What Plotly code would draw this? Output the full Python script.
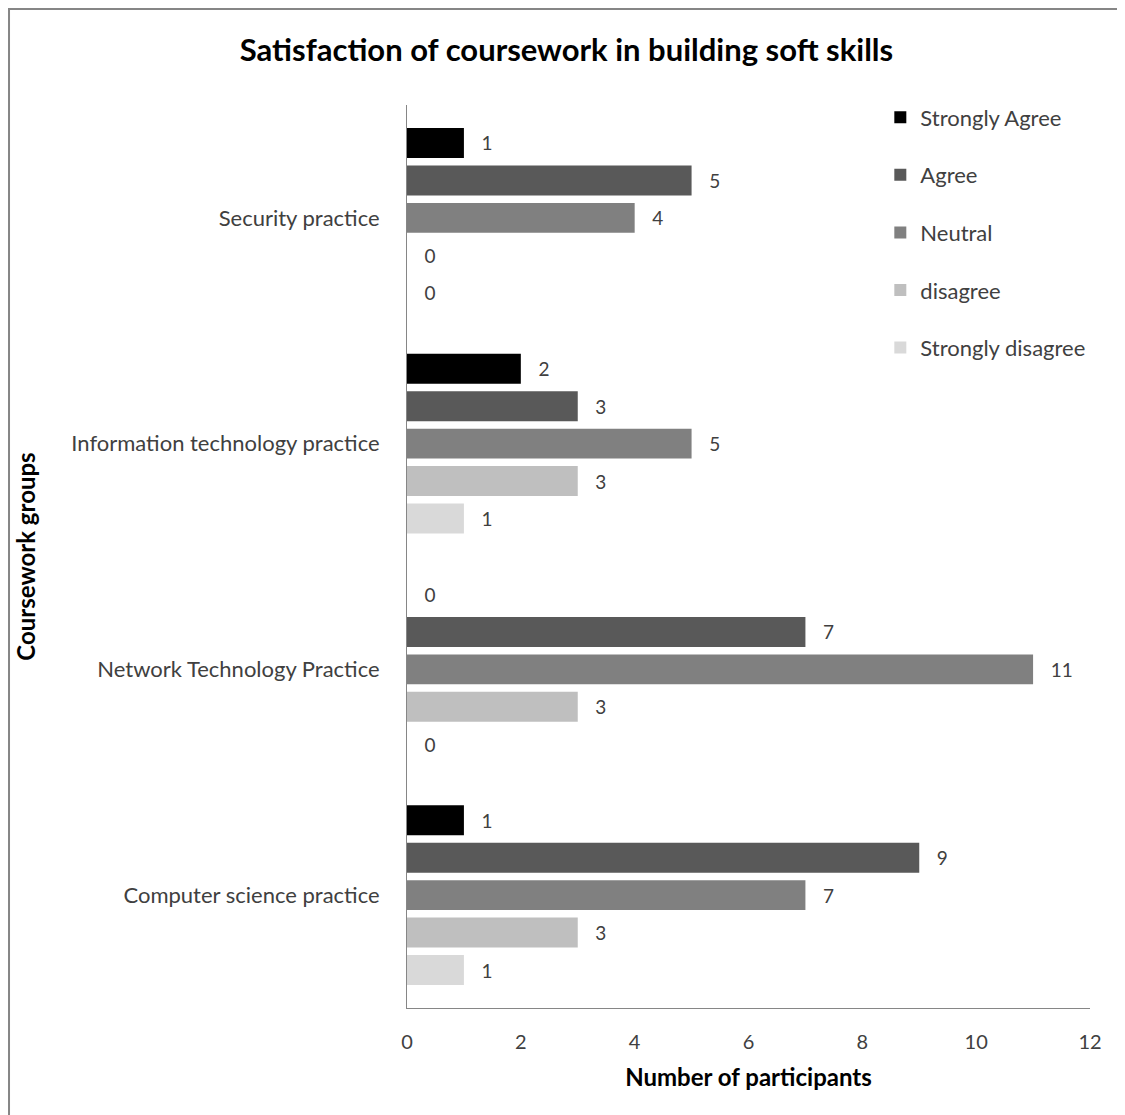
import plotly.graph_objects as go

groups = ["Security practice", "Information technology practice",
          "Network Technology Practice", "Computer science practice"]
responses = ["Strongly Agree", "Agree", "Neutral", "disagree", "Strongly disagree"]

strongly_agree = [1, 2, 0, 1]
agree = [5, 3, 7, 9]
neutral = [4, 5, 11, 7]
disagree = [0, 3, 3, 3]
strongly_disagree = [0, 1, 0, 1]

x_ticks = [0, 2, 4, 6, 8, 10, 12]

COLORS = ["#000000", "#595959", "#808080", "#BFBFBF", "#D9D9D9"]
FONT = "Lato, 'Open Sans', sans-serif"

series = [strongly_agree, agree, neutral, disagree, strongly_disagree]

fig = go.Figure()
for i, (name, vals) in enumerate(zip(responses, series)):
    fig.add_trace(go.Bar(
        name=name, y=groups, x=vals, orientation="h",
        marker=dict(color=COLORS[i], line=dict(width=0)),
        text=[f"   {v}" for v in vals], textposition="outside",
        textfont=dict(size=19, color="#404040", family=FONT),
        cliponaxis=False, legendgroup=name,
    ))

# page has an 8px body margin, so the figure is 8px smaller than the window
fig.update_layout(
    width=1117, height=1107,
    margin=dict(l=399, r=35, t=97, b=107, autoexpand=False),
    paper_bgcolor="white", plot_bgcolor="white",
    font=dict(family=FONT, color="#404040", size=19),
    barmode="group", bargap=0.17, bargroupgap=0.2,
    title=dict(text="<b>Satisfaction of coursework in building soft skills</b>",
               x=0.5, xanchor="center", y=0.962, yanchor="middle",
               font=dict(size=31, color="#000000", family=FONT)),
    legend=dict(x=0.693, y=1.0095, xanchor="left", yanchor="top",
                traceorder="grouped", tracegroupgap=26,
                font=dict(size=22, color="#404040", family=FONT),
                bgcolor="rgba(0,0,0,0)"),
    xaxis=dict(range=[0, 12], tickvals=x_ticks, showgrid=False, zeroline=False,
               showline=True, linecolor="#868686", linewidth=1, ticks="",
               ticklabelstandoff=16, tickfont=dict(size=20, color="#404040"),
               title=dict(text="<b>Number of participants</b>", standoff=17,
                          font=dict(size=24, color="#000000"))),
    yaxis=dict(autorange="reversed", showgrid=False, zeroline=False,
               showline=True, linecolor="#868686", linewidth=1, ticks="",
               ticklabelstandoff=22, tickfont=dict(size=22, color="#404040"),
               title=dict(text="<b>Coursework groups</b>", standoff=28,
                          font=dict(size=24, color="#000000"))),
    shapes=[dict(type="rect", xref="paper", yref="paper",
                 x0=-0.5827, x1=1.06, y0=-0.14, y1=1.1063,
                 line=dict(color="#868686", width=2), layer="below")],
)

fig.write_html("out.html")
